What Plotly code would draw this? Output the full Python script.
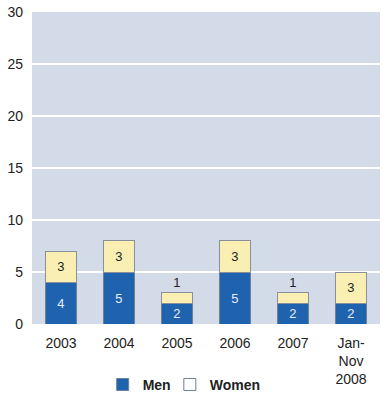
import plotly.graph_objects as go

categories = ["2003", "2004", "2005", "2006", "2007", "Jan-<br>Nov<br>2008"]
men = [4, 5, 2, 5, 2, 2]
women = [3, 3, 1, 3, 1, 3]
women_pos = ["inside", "inside", "outside", "inside", "outside", "inside"]

font = "Liberation Sans, Arial, sans-serif"

fig = go.Figure()
fig.add_trace(go.Bar(
    x=categories, y=men, name="Men", legend="legend",
    marker=dict(color="#1f62ae", line=dict(color="#6f8095", width=1)),
    text=men, textposition="inside", insidetextanchor="middle", textangle=0,
    textfont=dict(color="#e8eef8", size=14, family=font),
))
fig.add_trace(go.Bar(
    x=categories, y=women, name="Women", showlegend=False,
    marker=dict(color="#f9efb3", line=dict(color="#8a8f99", width=1)),
    text=women, textposition=women_pos, insidetextanchor="middle", textangle=0,
    textfont=dict(color="#222222", size=14, family=font),
    cliponaxis=False,
))
# legend-only entry with the white swatch used in the reference
fig.add_trace(go.Bar(
    x=[categories[0]], y=[None], name="Women", legend="legend2",
    marker=dict(color="white", line=dict(color="#6f8095", width=1)),
    hoverinfo="skip",
))
legend_common = dict(orientation="h", xref="container", yref="container",
                     y=0.052, xanchor="left", yanchor="middle",
                     font=dict(size=14, family=font, color="#222222", weight="bold"),
                     itemwidth=30, bgcolor="rgba(0,0,0,0)")
fig.update_layout(
    barmode="stack", bargap=0.47,
    width=386, height=406,
    margin=dict(l=32, r=6, t=12, b=82, autoexpand=False),
    paper_bgcolor="white", plot_bgcolor="#d3dbe8",
    font=dict(family=font, size=14, color="#222222"),
    showlegend=True,
    legend=dict(x=0.266, **legend_common),
    legend2=dict(x=0.44, **legend_common),
    uniformtext=dict(mode="show", minsize=10),
)
fig.update_yaxes(range=[0, 30], dtick=5, showgrid=True, gridcolor="white", gridwidth=1.5,
                 zeroline=False, ticks="", tickfont=dict(size=14), automargin=False,
                 ticklabelstandoff=8)
fig.update_xaxes(showgrid=False, ticks="", tickfont=dict(size=14), ticklabelstandoff=9,
                 automargin=False)
fig.write_html("out.html", config={"displayModeBar": False},
               post_script="document.body.style.margin='0';")
